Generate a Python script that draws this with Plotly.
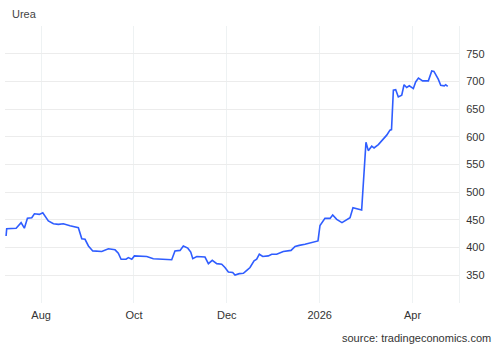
import plotly.graph_objects as go

# x in axis units: tick "Aug"=0, "Oct"=60, "Dec"=120, "2026"=180, "Apr"=240
x_vals = [-22.6, -22.2, -16.1, -12.9, -10.8, -8.8, -6.0, -4.3, -1.1, 1.1, 4.7, 8.0, 11.2, 14.4,
          18.7, 24.1, 26.3, 28.4, 30.6, 33.4, 39.2, 43.5, 47.8, 49.9, 51.7, 54.9, 56.4, 58.6,
          60.3, 68.3, 72.5, 84.4, 86.5, 89.8, 91.9, 94.8, 96.7, 98.0, 100.6, 105.9, 108.1,
          110.6, 113.5, 116.7, 118.8, 121.0, 123.8, 125.3, 128.1, 130.7, 132.9, 135.0, 137.6,
          139.3, 141.0, 143.2, 146.8, 149.0, 152.2, 154.4, 156.5, 161.5, 164.1, 166.8, 170.5,
          178.9, 180.2, 183.4, 186.7, 188.4, 191.0, 194.4, 198.3, 199.6, 201.5, 207.1, 209.9,
          211.4, 213.6, 215.1, 217.9, 221.1, 223.3, 225.4, 226.4, 227.6, 229.1, 230.8, 233.0,
          234.5, 236.2, 237.9, 240.5, 242.0, 243.8, 246.5, 250.2, 252.4, 253.8, 256.6, 258.2,
          260.5, 261.4, 262.7]
urea = [421, 434, 435, 445, 435, 453, 454, 461, 460, 463, 448, 443, 442, 443,
        439.5, 436, 416, 415, 403, 394, 393, 398, 396, 390, 379, 379, 382, 379,
        385, 384, 380, 378, 394, 395, 403, 399, 392, 380, 384, 383, 371,
        377, 371, 370, 364, 356, 355, 350.5, 353, 353.6, 359, 364, 376,
        379, 388, 384, 385, 388, 388, 391, 393, 395, 402, 404, 406,
        412, 440, 452.7, 452.7, 459, 451, 445, 452.7, 454, 472, 468, 590,
        575, 583, 580, 586, 596, 603, 612, 613, 684, 685, 672, 675,
        694, 689, 692, 687, 699, 706, 701, 701, 719, 718, 704, 693,
        692, 694, 691]

x_tickvals = [0, 60, 120, 180, 240]
x_ticktext = ["Aug", "Oct", "Dec", "2026", "Apr"]
y_tickvals = [300, 350, 400, 450, 500, 550, 600, 650, 700, 750, 800]
y_ticktext = ["", "350", "400", "450", "500", "550", "600", "650", "700", "750", ""]

fig = go.Figure()
fig.add_trace(go.Scatter(x=x_vals, y=urea, mode="lines",
                         line=dict(color="#2f5dff", width=1.6), hoverinfo="skip"))

fig.update_layout(
    width=500, height=347,
    margin=dict(l=5, r=41, t=26, b=44),
    paper_bgcolor="white", plot_bgcolor="white",
    font=dict(family="Liberation Sans, Arial, sans-serif", size=11, color="#333"),
    showlegend=False,
    xaxis=dict(range=[-23.3, 270.0], tickvals=x_tickvals, ticktext=x_ticktext,
               showgrid=True, gridcolor="#eef2f3", gridwidth=1, zeroline=False,
               showline=False, ticks="", ticklabelstandoff=4),
    yaxis=dict(range=[300, 800], side="right", tickvals=y_tickvals, ticktext=y_ticktext,
               showgrid=True, gridcolor="#ececec", gridwidth=1, zeroline=False,
               showline=True, linecolor="#eef2f3", mirror=False, ticks="",
               ticklabelstandoff=4),
    annotations=[
        dict(text="Urea", xref="paper", yref="paper", x=0.01, y=1.0, yshift=12,
             xanchor="left", yanchor="middle", showarrow=False,
             font=dict(size=11, color="#444")),
        dict(text="source: tradingeconomics.com", xref="paper", yref="paper",
             x=1.0, xshift=34, y=0, yshift=-35, xanchor="right", yanchor="middle",
             showarrow=False, font=dict(size=11, color="#333")),
    ],
)

fig.write_html("out.html")
